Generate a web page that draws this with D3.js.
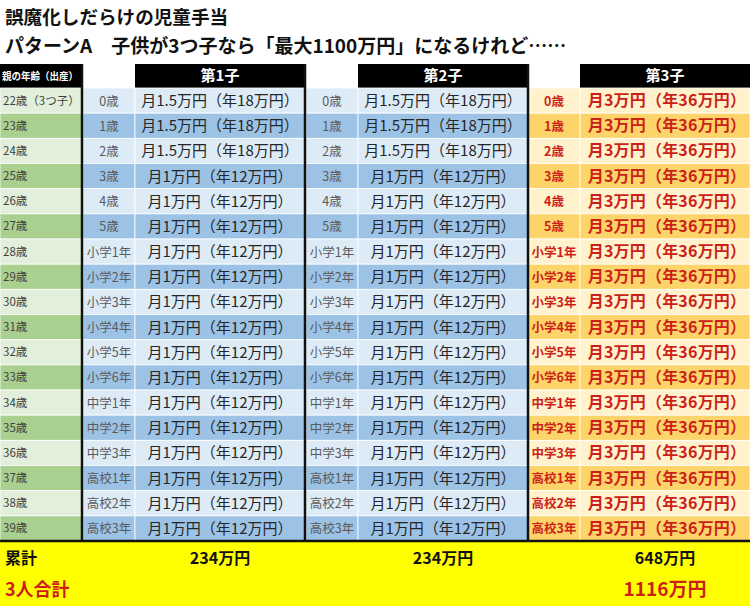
<!DOCTYPE html>
<html>
<head>
<meta charset="utf-8">
<script src="https://cdn.jsdelivr.net/npm/d3@7"></script>
<style>
  body { margin: 0; background: #ffffff; }
  text { font-family: "Noto Sans CJK JP", "Noto Sans", sans-serif; }
</style>
</head>
<body>
<script>
// data
var titleText = "誤魔化しだらけの児童手当";
var subtitleText = "パターンA　子供が3つ子なら「最大1100万円」になるけれど……";
var parentHeader = "親の年齢（出産）";
var children = ["第1子", "第2子", "第3子"];
var parentAges = ["22歳（3つ子）", "23歳", "24歳", "25歳", "26歳", "27歳", "28歳", "29歳", "30歳",
                  "31歳", "32歳", "33歳", "34歳", "35歳", "36歳", "37歳", "38歳", "39歳"];
var childStages = ["0歳", "1歳", "2歳", "3歳", "4歳", "5歳", "小学1年", "小学2年", "小学3年",
                   "小学4年", "小学5年", "小学6年", "中学1年", "中学2年", "中学3年", "高校1年", "高校2年", "高校3年"];
// monthly allowance (万円) per child
var monthly1 = [1.5, 1.5, 1.5, 1, 1, 1, 1, 1, 1, 1, 1, 1, 1, 1, 1, 1, 1, 1];
var monthly2 = [1.5, 1.5, 1.5, 1, 1, 1, 1, 1, 1, 1, 1, 1, 1, 1, 1, 1, 1, 1];
var monthly3 = [3, 3, 3, 3, 3, 3, 3, 3, 3, 3, 3, 3, 3, 3, 3, 3, 3, 3];
var sumLabel = "累計";
var grandLabel = "3人合計";

var W = 750, H = 606;
var svg = d3.select("body").append("svg")
    .attr("width", W)
    .attr("height", H);

var monthly = [monthly1, monthly2, monthly3];

// layout
var tableTop = 88, tableBottom = 541;
var y = d3.scaleBand().domain(d3.range(parentAges.length)).range([tableTop, tableBottom]);
var blockX = [83, 306, 528];     // left edge of each child block (age cell)
var valueX = [135, 358, 580];    // left edge of value cell
var blockEnd = [305, 528, 750];
var parentW = 82;

var green = ["#e2efda", "#a9d08e"];
var blue = ["#ddebf7", "#9cc3e6"];
var gold = ["#fff2cc", "#fcd469"];
var red = "#cc1f1a";

// titles
svg.append("text").attr("x", 5).attr("y", 24)
    .style("font-size", "18.6px").style("font-weight", "bold").attr("fill", "#111")
    .text(titleText);
svg.append("text").attr("x", 5).attr("y", 53)
    .style("font-size", "19px").style("font-weight", "bold").attr("fill", "#111")
    .text(subtitleText);

// header
svg.append("rect").attr("x", 0).attr("y", 64).attr("width", parentW).attr("height", tableTop - 64)
    .attr("fill", "#000");
svg.append("text").attr("x", 2).attr("y", 80)
    .attr("textLength", 76).attr("lengthAdjust", "spacingAndGlyphs")
    .style("font-size", "10.5px").style("font-weight", "bold").attr("fill", "#fff")
    .text(parentHeader);

children.forEach(function(c, i) {
  svg.append("rect").attr("x", valueX[i]).attr("y", 64)
      .attr("width", blockEnd[i] - valueX[i]).attr("height", tableTop - 64)
      .attr("fill", "#000");
  svg.append("text").attr("x", (valueX[i] + blockEnd[i]) / 2).attr("y", 81)
      .attr("text-anchor", "middle")
      .style("font-size", "15px").style("font-weight", "bold").attr("fill", "#fff")
      .text(c);
});

// parent age column
var prow = svg.append("g").selectAll("g").data(parentAges).enter().append("g");
prow.append("rect")
    .attr("x", 0).attr("y", function(d, i) { return y(i); })
    .attr("width", parentW).attr("height", y.bandwidth())
    .attr("fill", function(d, i) { return green[i % 2]; })
    .attr("stroke", "#fff").attr("stroke-width", 0.8);
prow.append("text")
    .attr("x", 3).attr("y", function(d, i) { return y(i) + y.bandwidth() / 2 + 4; })
    .style("font-size", "11.5px").attr("fill", "#404040")
    .text(function(d) { return d; });

// child blocks
monthly.forEach(function(vals, k) {
  var pal = k === 2 ? gold : blue;
  var g = svg.append("g");
  var rows = g.selectAll("g").data(vals).enter().append("g");
  rows.append("rect")
      .attr("x", blockX[k]).attr("y", function(d, i) { return y(i); })
      .attr("width", valueX[k] - blockX[k]).attr("height", y.bandwidth())
      .attr("fill", function(d, i) { return pal[i % 2]; })
      .attr("stroke", "#fff").attr("stroke-width", 0.8);
  rows.append("rect")
      .attr("x", valueX[k]).attr("y", function(d, i) { return y(i); })
      .attr("width", blockEnd[k] - valueX[k]).attr("height", y.bandwidth())
      .attr("fill", function(d, i) { return pal[i % 2]; })
      .attr("stroke", "#fff").attr("stroke-width", 0.8);
  rows.append("text")
      .attr("x", (blockX[k] + valueX[k]) / 2)
      .attr("y", function(d, i) { return y(i) + y.bandwidth() / 2 + 5; })
      .attr("text-anchor", "middle")
      .style("font-size", "12.5px")
      .style("font-weight", k === 2 ? "bold" : "normal")
      .attr("fill", k === 2 ? red : "#5a5a5a")
      .text(function(d, i) { return childStages[i]; });
  rows.append("text")
      .attr("x", (valueX[k] + blockEnd[k]) / 2 + (k === 2 ? 2 : 0))
      .attr("y", function(d, i) { return y(i) + y.bandwidth() / 2 + 5.5; })
      .attr("text-anchor", "middle")
      .style("font-size", k === 2 ? "16px" : "15px")
      .style("letter-spacing", k === 2 ? "0.2px" : "0px")
      .style("font-weight", k === 2 ? "bold" : "normal")
      .attr("fill", k === 2 ? red : "#262626")
      .text(function(d) { return "月" + d + "万円（年" + (d * 12) + "万円）"; });
});

// black borders
[parentW, 305, 528].forEach(function(x) {
  svg.append("line").attr("x1", x).attr("x2", x).attr("y1", 64).attr("y2", tableBottom)
      .attr("stroke", "#111").attr("stroke-width", 2.5);
});

// totals band
svg.append("rect").attr("x", 0).attr("y", tableBottom).attr("width", W).attr("height", H - tableBottom)
    .attr("fill", "#ffff00");
svg.append("line").attr("x1", 0).attr("x2", W).attr("y1", tableBottom).attr("y2", tableBottom)
    .attr("stroke", "#111").attr("stroke-width", 2.5);

var totals = monthly.map(function(v) { return d3.sum(v) * 12; });
svg.append("text").attr("x", 5).attr("y", 564)
    .style("font-size", "16px").style("font-weight", "bold").attr("fill", "#111")
    .text(sumLabel);
totals.forEach(function(t, k) {
  svg.append("text").attr("x", (valueX[k] + blockEnd[k]) / 2).attr("y", 564)
      .attr("text-anchor", "middle")
      .style("font-size", "16px").style("font-weight", "bold").attr("fill", "#111")
      .text(t + "万円");
});
svg.append("text").attr("x", 5).attr("y", 596)
    .style("font-size", "18px").style("font-weight", "bold").attr("fill", red)
    .text(grandLabel);
svg.append("text").attr("x", (valueX[2] + blockEnd[2]) / 2).attr("y", 596)
    .attr("text-anchor", "middle")
    .style("font-size", "19px").style("font-weight", "bold").attr("fill", red)
    .text(d3.sum(totals) + "万円");
</script>
</body>
</html>
